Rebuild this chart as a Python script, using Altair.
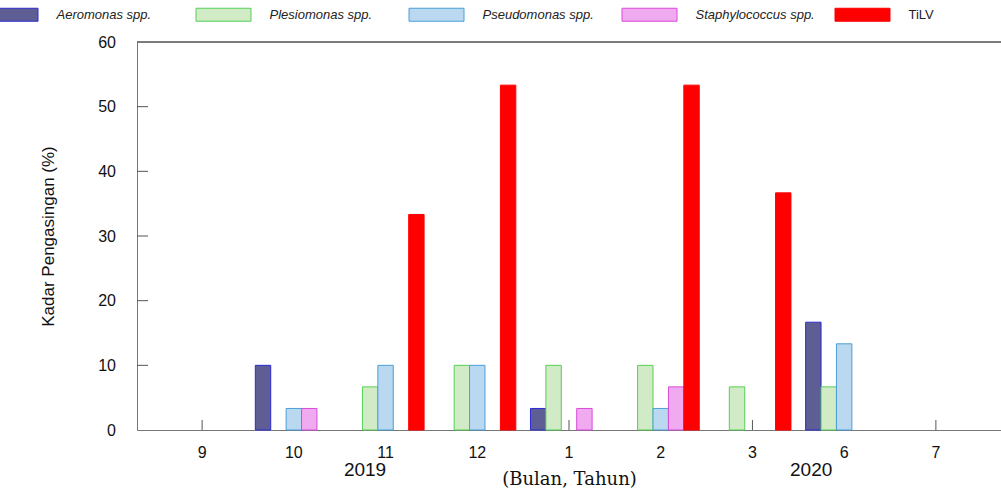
import altair as alt
import pandas as pd

# Isolation rate (%) per sampling month, Sep 2019 - Jul 2020
months = ["9", "10", "11", "12", "1", "2", "3", "6", "7"]
series = ["Aeromonas spp.", "Plesiomonas spp.", "Pseudomonas spp.",
          "Staphylococcus spp.", "TiLV"]
aeromonas = [0, 10, 0, 0, 3.33, 0, 0, 16.67, 0]
plesiomonas = [0, 0, 6.67, 10, 10, 10, 6.67, 6.67, 0]
pseudomonas = [0, 3.33, 10, 10, 0, 3.33, 0, 13.33, 0]
staphylococcus = [0, 3.33, 0, 0, 3.33, 6.67, 0, 0, 0]
tilv = [0, 0, 33.33, 53.33, 0, 53.33, 36.67, 0, 0]
y_ticks = [0, 10, 20, 30, 40, 50, 60]
years = [("11", "2019"), ("6", "2020")]

fills = ["#5e5e94", "#d0ebc6", "#bad9f0", "#f0aaf0", "#ff0000"]
strokes = ["#2a2ad4", "#55d055", "#4a9fd8", "#d94bd9", "#ff0000"]

W, H = 864, 388
FONT = "Liberation Sans"

rows = []
for name, vals in zip(series, [aeromonas, plesiomonas, pseudomonas, staphylococcus, tilv]):
    for m, v in zip(months, vals):
        if v > 0:
            rows.append({"month": m, "series": name, "value": v})
df = pd.DataFrame(rows)

x_scale = alt.Scale(domain=months, paddingInner=0.16, paddingOuter=0.29)
y_scale = alt.Scale(domain=[0, 60], nice=False, zero=True)

legend = alt.Legend(
    title=None, orient="none", legendX=-154.5, legendY=-55.5,
    direction="horizontal", columns=5, gridAlign="all", columnPadding=17,
    symbolType="M-1,-0.236H1V0.236H-1Z", symbolSize=3025, symbolStrokeWidth=1,
    labelFont=FONT, labelFontSize=13, labelColor="#222", labelOffset=18,
    labelFontStyle=alt.ExprRef("datum.label == 'TiLV' ? 'normal' : 'italic'"),
    padding=0, rowPadding=0,
)

x_axis = alt.Axis(
    labelFont=FONT, labelFontSize=16, labelColor="#111", labelAngle=0,
    labelAlign="center", labelBaseline="alphabetic", labelPadding=27,
    ticks=False, tickSize=0, domainColor="#777", domainWidth=1,
    titleFont="DejaVu Serif", titleFontSize=18, titleFontWeight="normal",
    titleColor="#111", titleBaseline="alphabetic", titleX=W / 2, titleY=54,
)
y_axis = alt.Axis(
    values=y_ticks, labelFont=FONT, labelFontSize=16, labelColor="#111",
    labelPadding=21.5, ticks=False, tickSize=0, grid=False,
    domainColor="#777", domainWidth=1,
    titleFont=FONT, titleFontSize=17, titleFontWeight="normal", titleColor="#111",
    titleAngle=270, titleBaseline="alphabetic", titleX=-84, titleY=H / 2,
)

bars = alt.Chart(df).mark_bar(strokeWidth=1, opacity=1).encode(
    x=alt.X("month:N", scale=x_scale, sort=months, axis=x_axis, title="(Bulan, Tahun)"),
    xOffset=alt.XOffset("series:N", scale=alt.Scale(domain=series, paddingInner=0, paddingOuter=0)),
    y=alt.Y("value:Q", scale=y_scale, axis=y_axis, title="Kadar Pengasingan (%)"),
    fill=alt.Fill("series:N", scale=alt.Scale(domain=series, range=fills), legend=legend),
    stroke=alt.Stroke("series:N", scale=alt.Scale(domain=series, range=strokes), legend=legend),
)

# inward tick marks on the left and bottom edges
left_ticks = alt.Chart(pd.DataFrame({"value": y_ticks[1:-1]})).mark_rule(
    color="#555", strokeWidth=1
).encode(y=alt.Y("value:Q"), x=alt.value(0), x2=alt.value(11))

bottom_ticks = alt.Chart(pd.DataFrame({"month": months})).mark_rule(
    color="#555", strokeWidth=1
).encode(x=alt.X("month:N", sort=months), y=alt.value(H), y2=alt.value(H - 10))

top_border = alt.Chart(pd.DataFrame({"k": [0]})).mark_rule(
    color="#555", strokeWidth=1.5
).encode(y=alt.value(0), x=alt.value(0), x2=alt.value(W + 5))

year_layers = []
for (m, label), shift in zip(years, [-20.5, -33]):
    year_layers.append(
        alt.Chart(pd.DataFrame({"month": [m], "year": [label]})).mark_text(
            font=FONT, fontSize=19, color="#111", baseline="alphabetic", dx=shift
        ).encode(x=alt.X("month:N", sort=months), y=alt.value(H + 46), text="year:N")
    )

chart = alt.layer(left_ticks, bottom_ticks, bars, top_border, *year_layers).properties(
    width=W, height=H,
    autosize=alt.AutoSizeParams(type="none"),
    padding={"left": 137, "top": 42, "right": 0, "bottom": 64},
).configure_view(stroke=None).configure(background="white")

chart.save("out.html", embed_options={"renderer": "svg", "actions": False})
